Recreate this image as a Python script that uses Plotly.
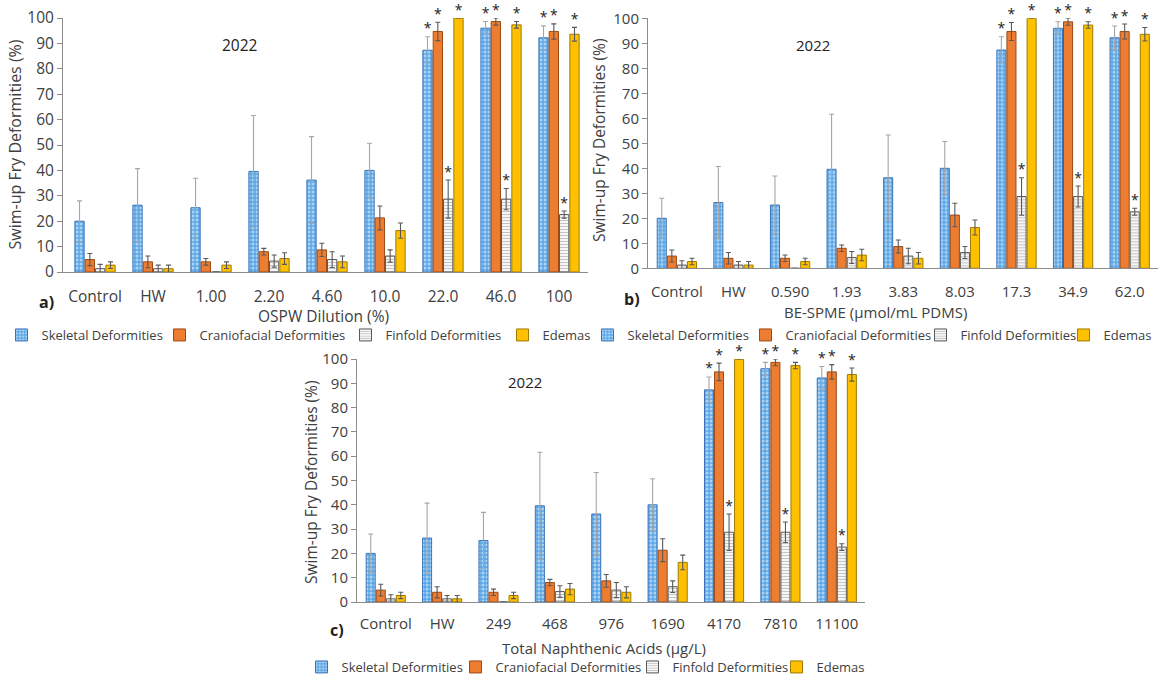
import plotly.graph_objects as go

W, H = 1159, 676

# ---------------- data ----------------
categories_a = ["Control", "HW", "1.00", "2.20", "4.60", "10.0", "22.0", "46.0", "100"]
categories_b = ["Control", "HW", "0.590", "1.93", "3.83", "8.03", "17.3", "34.9", "62.0"]
categories_c = ["Control", "HW", "249", "468", "976", "1690", "4170", "7810", "11100"]

series_names = ["Skeletal Deformities", "Craniofacial Deformities", "Finfold Deformities", "Edemas"]

skeletal = [20.0, 26.3, 25.3, 39.6, 36.2, 40.0, 87.3, 96.0, 92.2]
skeletal_err = [8.0, 14.4, 11.6, 22.0, 17.1, 10.7, 5.3, 2.6, 4.7]
craniofacial = [4.9, 4.0, 4.0, 8.0, 8.7, 21.3, 94.7, 98.6, 94.7]
craniofacial_err = [2.4, 2.3, 1.3, 1.3, 2.6, 4.7, 3.6, 1.4, 3.0]
finfold = [1.3, 1.3, 0.0, 4.3, 4.9, 6.3, 28.7, 28.7, 22.6]
finfold_err = [1.7, 1.4, 0.0, 2.4, 3.1, 2.4, 7.5, 4.2, 1.4]
edemas = [2.7, 1.3, 2.7, 5.3, 4.0, 16.3, 100.0, 97.3, 93.6]
edemas_err = [1.3, 1.4, 1.3, 2.3, 2.3, 3.0, 0.0, 1.3, 2.7]
significant = [False, False, False, False, False, False, True, True, True]

year_label = "2022"
x_titles = ["OSPW Dilution (%)", "BE-SPME (µmol/mL PDMS)", "Total Naphthenic Acids (µg/L)"]
y_title = "Swim-up Fry Deformities (%)"
panel_labels = ["a)", "b)", "c)"]
y_ticks = [0, 10, 20, 30, 40, 50, 60, 70, 80, 90, 100]

values = [skeletal, craniofacial, finfold, edemas]
errors = [skeletal_err, craniofacial_err, finfold_err, edemas_err]
all_categories = [categories_a, categories_b, categories_c]

# ---------------- style ----------------
FONT = "Open Sans"
TXT = "#404040"
styles = [
    dict(marker=dict(color="#5AA6E6",
                     pattern=dict(shape=".", fgcolor="white", bgcolor="#5AA6E6", size=4, solidity=0.45),
                     line=dict(color="#3B73B9", width=1)),
         err="#A6A6A6"),
    dict(marker=dict(color="#ED7D31", line=dict(color="#9C4A14", width=1)), err="#595959"),
    dict(marker=dict(color="white",
                     pattern=dict(shape="-", fgcolor="#8C8C8C", bgcolor="white", size=3, solidity=0.45),
                     line=dict(color="#595959", width=1)),
         err="#595959"),
    dict(marker=dict(color="#FFC000", line=dict(color="#9E7A00", width=1)), err="#595959"),
]

pitch, bar_w = 0.178, 0.16
offsets = [(k - 1.5) * pitch for k in range(4)]

# leg_sw: left edge (px) of each legend swatch
panels = [
    dict(xdom=(63, 588), xr=(-0.552, 8.5), ydom=(272, 18), lab=(46, 302), xt=(323, 316),
         yt=(14.5, 145), year=(240, 45), leg_y=335, leg_sw=[18, 176, 362, 519], fs=15.5, lfs=13,
         yfs=16, stand=10),
    dict(xdom=(648, 1158), xr=(-0.51, 8.5), ydom=(268.3, 18.3), lab=(632, 299), xt=(875, 312),
         yt=(599, 140), year=(813, 45), leg_y=335, leg_sw=[604, 762, 937, 1080], fs=15, lfs=13,
         yfs=15.5, stand=10),
    dict(xdom=(357, 865), xr=(-0.51, 8.5), ydom=(602, 359), lab=(337, 630), xt=(604, 648),
         yt=(311, 482), year=(525, 382), leg_y=667, leg_sw=[318, 472, 649, 793], fs=15, lfs=13,
         yfs=15.5, stand=8),
]


def px_x(v):
    return v / W


def px_y(v):
    return 1 - v / H


fig = go.Figure()
layout = dict(
    width=W, height=H, margin=dict(l=0, r=0, t=0, b=0, autoexpand=False),
    paper_bgcolor="white", plot_bgcolor="white",
    barmode="overlay", font=dict(family=FONT, color=TXT, size=15),
)
annotations = []
legend_n = 0

for p, panel in enumerate(panels):
    sfx = "" if p == 0 else str(p + 1)
    xa, ya = "x" + sfx, "y" + sfx
    cats = all_categories[p]
    idx = list(range(len(cats)))
    for k in range(4):
        legend_n += 1
        lname = "legend" if legend_n == 1 else f"legend{legend_n}"
        st = styles[k]
        fig.add_trace(go.Bar(
            x=[i + offsets[k] for i in idx], y=values[k], width=bar_w,
            name=series_names[k], marker=st["marker"],
            error_y=dict(type="data", array=errors[k], visible=True, color=st["err"],
                         thickness=1.1, width=2.5),
            xaxis=xa, yaxis=ya, legend=lname, showlegend=True,
        ))
        sx = [i + offsets[k] for i in idx if significant[i]]
        sy = [values[k][i] + errors[k][i] for i in idx if significant[i]]
        fig.add_trace(go.Scatter(
            x=sx, y=sy, mode="text", text=["*"] * len(sx), textposition="top center",
            textfont=dict(size=14, color="#222222", family=FONT), cliponaxis=False,
            showlegend=False, hoverinfo="skip", xaxis=xa, yaxis=ya,
        ))
        layout[lname] = dict(
            x=px_x(panel["leg_sw"][k] - 16.5), y=px_y(panel["leg_y"]), xanchor="left", yanchor="middle",
            orientation="h", bgcolor="rgba(0,0,0,0)", itemwidth=30,
            font=dict(family=FONT, size=panel["lfs"], color=TXT),
        )
    layout["xaxis" + sfx] = dict(
        domain=[px_x(panel["xdom"][0]), px_x(panel["xdom"][1])], range=list(panel["xr"]),
        anchor=ya, tickmode="array", tickvals=idx, ticktext=cats, showgrid=False, zeroline=False,
        showline=True, linecolor="#8C8C8C", linewidth=1, ticks="", ticklabelstandoff=panel["stand"],
        tickfont=dict(family=FONT, size=panel["fs"], color=TXT), fixedrange=True,
    )
    layout["yaxis" + sfx] = dict(
        domain=[px_y(panel["ydom"][0]), px_y(panel["ydom"][1])], range=[0, 100],
        anchor=xa, tickmode="array", tickvals=y_ticks, showgrid=False, zeroline=False,
        showline=True, linecolor="#8C8C8C", linewidth=1, ticks="outside", ticklen=5,
        tickcolor="#8C8C8C", tickfont=dict(family=FONT, size=panel["fs"], color=TXT), fixedrange=True,
    )
    common = dict(xref="paper", yref="paper", showarrow=False, xanchor="center", yanchor="middle")
    annotations += [
        dict(text=year_label, x=px_x(panel["year"][0]), y=px_y(panel["year"][1]),
             font=dict(family=FONT, size=panel["fs"], color="#222222"), **common),
        dict(text=x_titles[p], x=px_x(panel["xt"][0]), y=px_y(panel["xt"][1]),
             font=dict(family=FONT, size=panel["fs"], color=TXT), **common),
        dict(text=y_title, x=px_x(panel["yt"][0]), y=px_y(panel["yt"][1]), textangle=-90,
             font=dict(family=FONT, size=panel["yfs"], color=TXT), **common),
        dict(text="<b>" + panel_labels[p] + "</b>", x=px_x(panel["lab"][0]), y=px_y(panel["lab"][1]),
             font=dict(family=FONT, size=16, color="#222222"), **common),
    ]

layout["annotations"] = annotations
fig.update_layout(**layout)
fig.write_html("out.html")
